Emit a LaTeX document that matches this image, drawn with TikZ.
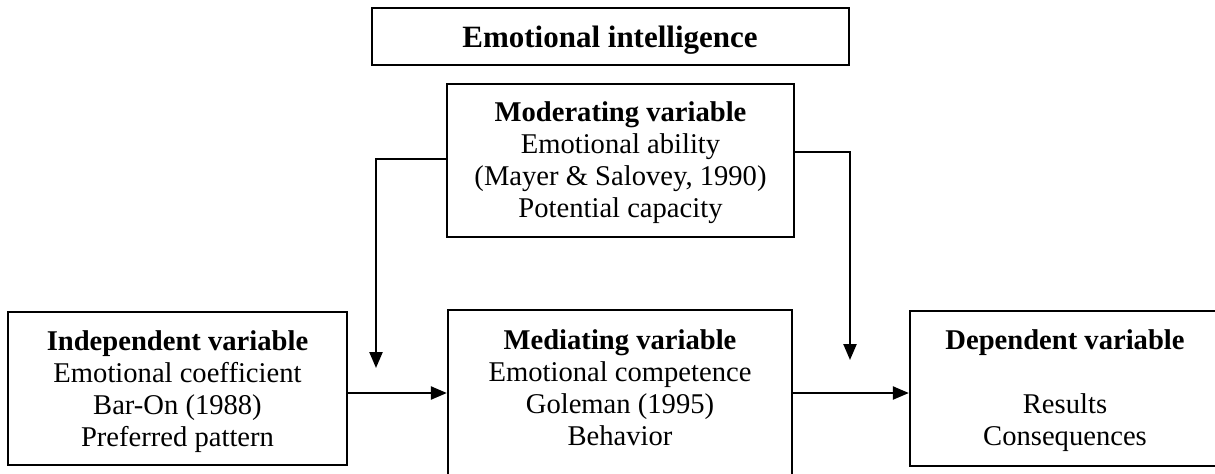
\documentclass[tikz,border=0pt]{standalone}
\usepackage{fontspec}
\setmainfont{Liberation Serif}
\usetikzlibrary{arrows.meta}
\begin{document}
\begin{tikzpicture}[x=0.5pt,y=-0.5pt,
  box/.style={draw,line width=1.15pt,inner sep=0pt,rectangle},
  txt/.style={inner sep=0pt,align=center,font=\fontsize{14.3}{16}\selectfont},
  ttl/.style={inner sep=0pt,font=\fontsize{15.5}{17}\selectfont\bfseries},
  conn/.style={line width=1.15pt,-{Triangle[length=8pt,width=6.5pt]}}]
\useasboundingbox (0,0) rectangle (1215,473);
\clip (0,0) rectangle (1215,473);
% boxes
\node[box,minimum width=238.5pt,minimum height=28.5pt] (top) at (610.5,36.5) {};
\node[box,minimum width=173.5pt,minimum height=76.5pt] (mod) at (620.5,160.5) {};
\node[box,minimum width=169.5pt,minimum height=76.5pt] (ind) at (177.5,388.5) {};
\node[box,minimum width=172pt,minimum height=95pt] (med) at (620,405) {};
\node[box,minimum width=157.5pt,minimum height=77.5pt] (dep) at (1067.5,388.5) {};
% texts
\node[ttl,anchor=base] (toptxt) at (610,47) {Emotional intelligence};
\node[txt] (modtxt) at (620.5,163) {\strut\textbf{Moderating variable}\\\strut Emotional ability\\\strut (Mayer \& Salovey, 1990)\\\strut Potential capacity};
\node[txt] (indtxt) at (177.5,392) {\strut\textbf{Independent variable}\\\strut Emotional coefficient\\\strut Bar-On (1988)\\\strut Preferred pattern};
\node[txt] (medtxt) at (620,391) {\strut\textbf{Mediating variable}\\\strut Emotional competence\\\strut Goleman (1995)\\\strut Behavior};
\node[txt] (deptxt) at (1065,391) {\strut\textbf{Dependent variable}\\\strut\\\strut Results\\\strut Consequences};
% connectors
\coordinate (lt) at (376,368);
\coordinate (rt) at (850,360);
\draw[conn] (mod.west |- 0,159) -| (lt);
\draw[conn] (mod.east |- 0,152) -| (rt);
\draw[conn] (ind.east |- 0,393) -- (med.west |- 0,393);
\draw[conn] (med.east |- 0,393) -- (dep.west |- 0,393);
\end{tikzpicture}
\end{document}
